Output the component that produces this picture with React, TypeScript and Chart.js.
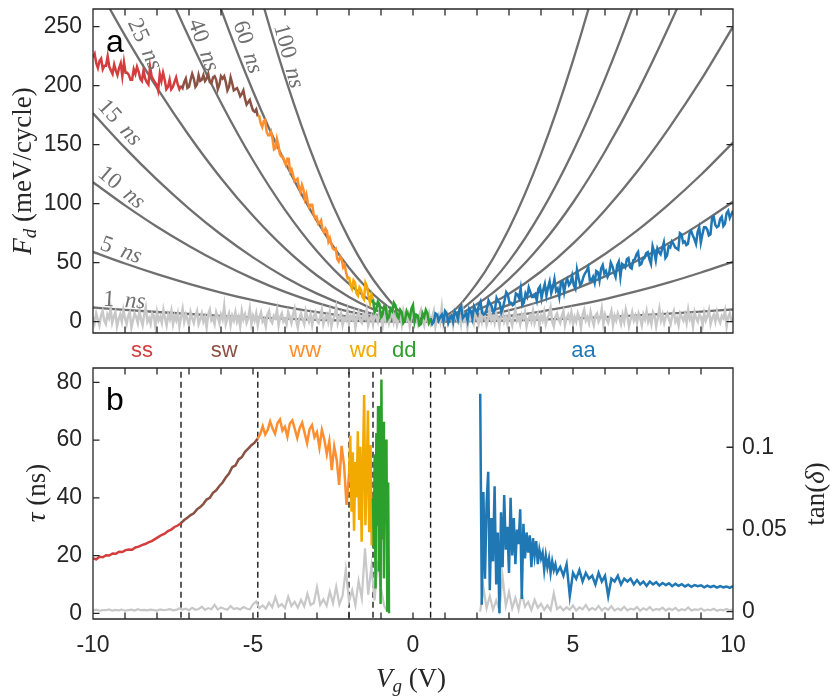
import { useEffect, useRef } from 'react';
import Chart from 'chart.js/auto';

// ---- axes ----
const vgMinorTicks = [-10, -9, -8, -7, -6, -5, -4, -3, -2, -1, 0, 1, 2, 3, 4, 5, 6, 7, 8, 9, 10];
const vgTicks = [-10, -5, 0, 5, 10];
const fdTicks = [0, 50, 100, 150, 200, 250];
const tauTicks = [0, 20, 40, 60, 80];
const tanTicks = [0, 0.05, 0.1];

// phase boundaries (V) and phase names
const phaseBounds = [-7.25, -4.85, -2.0, -1.25, 0.55];
const phaseNames = ['ss', 'sw', 'ww', 'wd', 'dd', 'aa'];
const phaseLabelV = [-8.47, -5.9, -3.37, -1.54, -0.27, 5.33];

// ---- panel a: model curves F_d(V_g) for fixed tau ----
const curveTaus = ['1', '5', '10', '15', '25', '40', '60', '100'];
const curveV = [-10, -9, -8, -7, -6, -5, -4, -3, -2, -1, 0, 1, 2, 3, 4, 5, 6, 7, 8, 9, 10];
const fd1ns = [12.0, 10.0, 8.2, 6.5, 5.0, 3.7, 2.6, 1.6, 0.9, 0.3, 0.0, 0.1, 0.4, 1.0, 1.8, 2.7, 3.9, 5.3, 6.8, 8.5, 10.3];
const fd5ns = [59.1, 49.3, 40.3, 32.1, 24.7, 18.2, 12.6, 8.0, 4.3, 1.6, 0.2, 0.3, 2.0, 4.8, 8.6, 13.5, 19.2, 25.8, 33.3, 41.7, 50.8];
const fd10ns = [118.2, 98.6, 80.5, 64.2, 49.5, 36.5, 25.2, 15.9, 8.5, 3.3, 0.4, 0.7, 4.0, 9.6, 17.3, 26.9, 38.4, 51.7, 66.7, 83.3, 101.6];
const fd15ns = [176.6, 147.3, 120.4, 95.9, 73.9, 54.5, 37.7, 23.8, 12.8, 4.9, 0.5, 1.0, 5.9, 14.3, 25.8, 40.2, 57.4, 77.2, 99.7, 124.5, 151.8];
const fd25ns = [290.8, 242.5, 198.1, 157.8, 121.6, 89.7, 62.1, 39.1, 21.0, 8.0, 0.9, 1.6, 9.7, 23.6, 42.5, 66.2, 94.5, 127.1, 164.1, 204.9, 250.0];
const fd40ns = [443.7, 369.9, 302.3, 240.8, 185.6, 136.8, 94.8, 59.7, 32.0, 12.3, 1.4, 2.4, 14.9, 36.0, 64.9, 101.0, 144.2, 193.9, 250.3, 312.7, 381.4];
const fd60ns = [633.2, 528.0, 431.4, 343.7, 264.9, 195.3, 135.2, 85.2, 45.7, 17.5, 2.0, 3.5, 21.2, 51.3, 92.6, 144.2, 205.8, 276.8, 357.2, 446.2, 544.3];
const fd100ns = [971.5, 810.1, 661.9, 527.4, 406.4, 299.6, 207.5, 130.8, 70.2, 26.9, 3.0, 5.4, 32.6, 78.8, 142.0, 221.2, 315.7, 424.7, 548.1, 684.7, 835.1];
const fdCurves = [fd1ns, fd5ns, fd10ns, fd15ns, fd25ns, fd40ns, fd60ns, fd100ns];

// ---- panel a: measured F_d (meV/cycle), evenly sampled within each phase ----
const fdSs = [
  224, 227, 219, 215, 221, 223, 214, 217, 217, 225, 216, 213, 210, 218, 213, 209, 215, 219, 208, 220,
  211, 211, 209, 205, 205, 214, 210, 216, 212, 206, 204, 213, 206, 203, 201, 216, 208, 205, 203, 201,
  196, 210, 204, 211, 205, 197, 199, 205, 197, 199, 203, 207, 201, 197, 200,
];
const fdSw = [
  200, 198, 203, 206, 198, 199, 205, 210, 206, 199, 201, 209, 204, 205, 209, 204, 206, 210, 203, 202,
  207, 208, 205, 197, 201, 208, 206, 208, 203, 196, 199, 207, 202, 196, 197, 198, 195, 191, 193, 196,
  189, 184, 186, 188, 183, 179, 178, 180, 174,
];
const fdWw = [
  174, 174, 168, 165, 170, 171, 161, 158, 158, 161, 155, 146, 147, 155, 150, 142, 140, 140, 136, 133,
  138, 138, 127, 129, 124, 119, 120, 121, 114, 110, 116, 112, 104, 108, 101, 97, 99, 99, 91, 88,
  89, 83, 84, 86, 78, 76, 79, 77, 68, 71, 66, 62, 61, 62, 53, 51, 55, 53, 46, 48, 42, 37, 38,
];
const fdWd = [38, 31, 28, 35, 33, 24, 22, 29, 27, 21, 19, 33, 30, 22, 16, 23, 19];
const fdDd = [
  19, 8, 10, 17, 15, 4, 6, 13, 12, 2, 4, 11, 9, 16, 14, 5, 3, 10, 8, -1,
  1, 9, 6, 3, 11, 14, 0, 6, 5, -3, -2, 7, 4, 10, 7, -1, 2,
];
const fdAa = [
  3, -2, 0, 7, 6, 1, 4, 6, 0, 9, 7, -1, 3, 5, 0, 9, 7, 2, 11, 13,
  3, 5, 7, 1, 11, 9, 3, 13, 10, 7, 14, 17, 8, 6, 7, 11, 18, 15, 13, 8,
  10, 20, 17, 16, 8, 12, 18, 25, 23, 16, 16, 14, 15, 24, 23, 20, 28, 14, 16, 24,
  21, 29, 25, 21, 21, 23, 18, 28, 30, 20, 27, 32, 22, 29, 34, 24, 29, 36, 26, 28,
  21, 33, 34, 25, 33, 36, 31, 33, 39, 31, 28, 44, 37, 31, 33, 38, 41, 43, 46, 35,
  35, 38, 33, 43, 42, 35, 45, 48, 41, 43, 38, 41, 50, 47, 42, 38, 48, 51, 38, 49,
  48, 46, 53, 54, 46, 45, 52, 53, 57, 59, 48, 49, 53, 54, 58, 59, 53, 49, 64, 59,
  52, 62, 59, 57, 62, 67, 54, 56, 64, 63, 68, 66, 63, 62, 61, 75, 74, 67, 68, 65,
  66, 75, 77, 73, 70, 66, 76, 80, 67, 74, 80, 80, 78, 73, 74, 88, 89, 82, 80, 81,
  87, 89, 81, 83, 92, 94, 88, 91, 94,
];
const fdBackground = [
  4, -1, 7, 2, -3, 5, 9, 1, -2, 6, 3, 11, -1, 4, 8, -4, 2, 6, 0, 10,
  3, -2, 5, 8, -5, 1, 7, 4, -1, 9, 2, -3, 6, 12, 0, 3, -2, 7, 5, -4,
  8, 1, 4, -1, 10, 3, -3, 6, 2, 9, -2, 5, 1, 7, -4, 4, 11, 0, 6, 2,
  -3, 8, 3, -1, 5, 9, -2, 2, 7, 0, 4, -5, 6, 10, 1, 3, -2, 8, 4, -1,
  6, 2, 13, -2, 3, 7, -3, 5, 1, 8, 0, 4, -4, 9, 2, 6, -1, 3, 11, -2,
  5, 1, 7, -3, 4, 8, 0, 2, -4, 6, 9, 1, -1, 5, 3, 10, -3, 4, 7, 0,
  2, -2, 8, 4, -1, 6, 11, 1, -5, 3, 7, 2, -2, 9, 4, 0, 6, -3, 5, 8,
  1, -1, 4, 10, -2, 3, 6, 0, 8, -4, 2, 5, 12, -1, 4, 7, -3, 3, 1, 9,
  -2, 5, 2, 7, -5, 4, 8, 1, -1, 6, 3, 10, -3, 2, 5, -2, 7, 4, 0, 9,
  3, -4, 6, 1, 8, -1, 4, 11, 0, 5, -3, 2, 7, -2, 9, 3, 1, 6, -4, 4,
  8, 0, 3, -2, 6, 10, 2, -3, 5, 1, 7, -1, 4, 9, -4, 3, 6, 0, 12, -2,
  4, 7, -1, 2, 5, -3, 8, 3, 0, 6, -2, 10, 1, 4, -5, 7, 2, 5, -1, 9,
  3, -2, 6, 0, 8, 4, -3, 2, 11, 1, 5, -1, 7, 3, -4, 6, 9, 0, 4, -2,
  7, 2, -3, 5, 10, 1, 4, -2, 6, 3, 8, -4, 2, 5, 0, 9, -1, 4, 7, -3,
  5, 1, 8, -2, 3, 6, 12, 0, -4, 4, 7, 2, -1, 5, 9, -3, 3, 6, 1, 8,
  -2, 4, 0, 7, 3, -5, 6, 10, 1, 4, -1, 8, 2, -3, 5, 7, 0, 3, 11, -2,
  6, 2, -1, 4, 9, -3, 5, 1, 7, 3, -2, 6, 0, 10, 4, -4, 2, 8, 1, 5,
  -1, 7, 3, -3, 6, 2, 9, 0, 4, -2, 8, 5, -4, 3, 11, 1, 6, -1, 4, 7,
  2, -2, 5, 9, 0, 3, -3, 7, 4, 1, 6, -1, 10, 2, 5, -4, 8, 3, 0, 6,
  4, -3, 7, 1, 5, 10, -2, 3, 6, 0, 8, 2, -1, 5, 3, 9, -4, 4, 7, 1, 3,
];

// ---- panel b: tau (ns) ----
const tauSs = [19.0, 18.7, 19.6, 19.4, 20.1, 20.0, 20.7, 20.6, 21.3, 21.2, 21.9, 22.1, 22.0, 22.8, 23.1, 23.6, 24.0, 24.6, 25.0, 25.7, 26.4, 27.1, 27.6, 28.5, 29.0, 29.9, 30.4, 31.2];
const tauSw = [31.2, 32.3, 33.1, 34.0, 34.6, 36.0, 36.8, 37.9, 39.4, 40.0, 41.7, 42.6, 44.1, 45.3, 47.0, 48.4, 50.6, 51.2, 53.3, 54.1, 55.9, 57.0, 58.2, 59.1, 60.5];
const tauWw = [60.5, 62.1, 64.8, 61.9, 63.5, 66.4, 64.0, 62.2, 65.9, 67.1, 63.3, 64.6, 61.2, 65.7, 66.8, 63.9, 60.7, 64.2, 66.0, 62.5, 58.9, 63.8, 65.2, 61.0, 62.7, 57.4, 63.5, 60.2, 55.1, 59.6, 49.6, 57.8, 53.2, 44.5, 58.0, 51.2, 37.5, 48.0];
const tauWd = [48.0, 61.5, 35.2, 55.8, 28.6, 52.4, 40.1, 63.0, 32.3, 57.7, 24.8, 50.2, 75.6, 30.5, 46.9, 70.2, 28.1, 58.3, 23.5, 40.0];
const tauDd = [40.0, 22.3, 55.1, 8.6, 62.4, 30.2, 71.8, 14.5, 48.7, 3.2, 81.0, 25.6, 66.3, 12.1, 52.8, 35.0, 60.2, 0.5, 45.3, 0.0];
const tauAaNear = [
  76, 3, 42, 12, 38, 49, 8, 33, 18, 44, 10, 28, 0, 35, 16, 41, 22, 30, 14, 40,
  20, 33, 17, 29, 24, 36, 5, 31, 19, 28, 21, 27, 16, 26, 20, 25, 17, 22, 19, 21,
  15, 20, 16, 19, 14, 18, 15, 17, 14,
];
const tauAaFar = [
  16, 13, 17, 6, 14, 12, 15, 11, 14, 12, 13, 10, 14, 11, 13, 6, 12, 11, 13, 10,
  12, 11, 12, 10, 11.5, 10, 11, 9.5, 11, 10, 10.8, 9.6, 10.5, 9.8, 10.4, 9.4, 10.2, 9.5, 10.1, 9.3,
  9.9, 9.2, 9.8, 9.4, 9.7, 9.0, 9.6, 9.1, 9.5, 8.9, 9.4, 9.0, 9.3, 8.8, 9.4,
];
// tan(delta), in units of 1e-3
const tanLeftMilli = [
  0.8, 1.2, 0.6, 1.0, 0.9, 1.4, 0.7, 1.1, 0.8, 1.3, 0.6, 1.0, 1.2, 0.7, 1.5, 0.9, 1.1, 0.8, 1.3, 1.0,
  0.7, 1.4, 0.9, 1.2, 1.6, 0.8, 1.1, 2.0, 1.3, 1.8, 0.9, 2.4, 1.2, 1.6, 3.0, 1.1, 2.2, 1.5, 4.1, 1.3,
  2.6, 1.8, 1.2, 3.4, 1.6, 2.1, 1.4, 2.8, 1.9, 1.3, 4.5, 6.2, 2.1, 3.8, 1.9, 5.5, 2.7, 8.9, 3.1, 4.6,
  2.2, 9.1, 3.5, 6.0, 2.4, 7.2, 3.3, 10.8, 4.1, 5.3, 15.0, 4.2, 7.5, 3.6, 12.3, 5.1, 15.2, 4.4, 9.8, 25.8,
  6.3, 13.0, 3.9, 18.7, 8.2, 38.5, 10.4, 27.6, 6.8, 31.0, 14.2, 3.5, 0.0,
];
const tanRightMilli = [
  0.0, 14.8, 2.1, 9.5, 1.3, 6.8, 0.8, 21.3, 3.5, 12.0, 2.0, 8.4, 1.2, 11.2, 3.1, 5.9, 1.0, 7.2, 2.4, 4.8,
  1.1, 3.9, 0.9, 11.2, 1.6, 3.1, 0.8, 2.7, 1.2, 3.8, 0.7, 2.6, 1.4, 4.1, 0.9, 2.2, 1.1, 3.5, 0.8, 2.4,
  1.2, 3.3, 0.7, 2.0, 1.0, 3.0, 0.8, 1.9, 1.3, 2.8, 0.6, 2.1, 1.1, 2.9, 0.8, 1.7, 1.2, 2.5, 0.7, 1.9,
  1.0, 2.3, 0.6, 1.5, 0.9, 2.6, 0.7, 1.4, 1.1, 2.0, 0.6, 1.3, 0.9, 1.8, 0.5, 1.2, 0.8, 1.6, 0.7, 1.4,
];

// ---- styles ----
const AXIS = '#262626';
const CURVE = '#6f6f6f';
const BG = '#c8c8c8';
const phaseColors = ['#d43d3d', '#8b5244', '#ff8f2e', '#f2a900', '#2ca02c', '#1f77b4'];
const TICK = 6.5;
const SANS = '"Liberation Sans", Arial, sans-serif';
const SERIF = '"Liberation Serif", "Times New Roman", serif';

// where the tau labels sit along the curves (V, F_d, angle in degrees)
const curveLabelPos = [
  [-9.02, 18.4, 4], [-9.12, 61, 20], [-9.1, 114, 40], [-9.15, 169, 48],
  [-8.37, 235.3, 65], [-6.53, 234.5, 70], [-5.15, 232.8, 72], [-3.87, 225.2, 75],
];

const spread = (x0: number, x1: number, ys: number[]) =>
  ys.map((y, i) => ({ x: x0 + ((x1 - x0) * i) / (ys.length - 1), y }));

type Run = { t: string; font: string; dy?: number };
function drawRuns(ctx: CanvasRenderingContext2D, runs: Run[], cx: number, cy: number, angle: number, color: string, base: number) {
  ctx.save();
  ctx.translate(cx, cy);
  ctx.rotate((angle * Math.PI) / 180);
  ctx.fillStyle = color;
  ctx.textBaseline = 'alphabetic';
  ctx.textAlign = 'left';
  let w = 0;
  for (const r of runs) {
    ctx.font = r.font;
    w += ctx.measureText(r.t).width;
  }
  let x = -w / 2;
  for (const r of runs) {
    ctx.font = r.font;
    ctx.fillText(r.t, x, base + (r.dy ?? 0));
    x += ctx.measureText(r.t).width;
  }
  ctx.restore();
}

function drawFrame(chart: any, left: [any, number[]], right: [any, number[]]) {
  const { ctx, chartArea: c } = chart;
  const x = chart.scales.x;
  ctx.save();
  ctx.strokeStyle = AXIS;
  ctx.lineWidth = 1.3;
  ctx.beginPath();
  for (const v of vgMinorTicks) {
    const p = x.getPixelForValue(v);
    ctx.moveTo(p, c.bottom);
    ctx.lineTo(p, c.bottom - TICK);
    ctx.moveTo(p, c.top);
    ctx.lineTo(p, c.top + TICK);
  }
  for (const v of left[1]) {
    const p = left[0].getPixelForValue(v);
    ctx.moveTo(c.left, p);
    ctx.lineTo(c.left + TICK, p);
  }
  for (const v of right[1]) {
    const p = right[0].getPixelForValue(v);
    ctx.moveTo(c.right, p);
    ctx.lineTo(c.right - TICK, p);
  }
  ctx.rect(c.left, c.top, c.right - c.left, c.bottom - c.top);
  ctx.stroke();
  ctx.restore();
}

const line = (data: { x: number; y: number }[], color: string, width = 2.5, extra: object = {}) => ({
  data,
  borderColor: color,
  borderWidth: width,
  pointRadius: 0,
  fill: false,
  tension: 0,
  ...extra,
});

const fixedTicks = (values: number[]) => (scale: any) => {
  scale.ticks = values.map((value) => ({ value }));
};

// fixed axis size, and no extra room reserved for the outermost tick labels
const fitTo = (size: number) => (s: any) => {
  if (s.isHorizontal()) s.height = size;
  else s.width = size;
  s.paddingTop = 0;
  s.paddingBottom = 0;
  s.paddingLeft = 0;
  s.paddingRight = 0;
};

const tickFont = { family: SANS, size: 23 };

export default function App() {
  const aRef = useRef<HTMLCanvasElement>(null);
  const bRef = useRef<HTMLCanvasElement>(null);

  useEffect(() => {
    if (!aRef.current || !bRef.current) return;
    Chart.defaults.font.family = SANS;

    const segA = [
      spread(-10, -7.25, fdSs), spread(-7.25, -4.85, fdSw), spread(-4.85, -2.0, fdWw),
      spread(-2.0, -1.25, fdWd), spread(-1.25, 0.55, fdDd), spread(0.55, 10, fdAa),
    ];
    const segB = [
      spread(-10, -7.25, tauSs), spread(-7.25, -4.85, tauSw), spread(-4.85, -2.0, tauWw),
      spread(-2.0, -1.25, tauWd), spread(-1.25, -0.75, tauDd),
      [...spread(2.1, 4.5, tauAaNear), ...spread(4.6, 10, tauAaFar)],
    ];

    // first dataset is drawn on top
    const datasetsA: any[] = [
      ...[4, 3, 2, 1, 0, 5].map((i) => line(segA[i], phaseColors[i])),
      line(spread(-10, 10, fdBackground), BG),
      ...fdCurves.map((ys) =>
        line(ys.map((y, i) => ({ x: curveV[i], y })), CURVE, 2.3, { cubicInterpolationMode: 'monotone' })
      ),
    ];

    const datasetsB: any[] = [
      ...[4, 3, 2, 1, 0, 5].map((i) => line(segB[i], phaseColors[i])),
      line(spread(-10, -0.8, tanLeftMilli.map((v) => v / 1000)), BG, 2.2, { yAxisID: 'y1' }),
      line(spread(2.1, 10, tanRightMilli.map((v) => v / 1000)), BG, 2.2, { yAxisID: 'y1' }),
      ...phaseBounds.map((v) =>
        line([{ x: v, y: -5 }, { x: v, y: 90 }], '#1a1a1a', 1.4, { borderDash: [6, 4] })
      ),
    ];

    const textA = {
      id: 'textA',
      afterDraw(chart: any) {
        const { ctx } = chart;
        const x = chart.scales.x, y = chart.scales.y;
        drawFrame(chart, [y, fdTicks], [y, fdTicks]);
        ctx.save();
        ctx.fillStyle = '#000';
        ctx.font = `32px ${SANS}`;
        ctx.textBaseline = 'alphabetic';
        ctx.fillText('a', 106, 52);
        ctx.restore();
        drawRuns(ctx, [
          { t: 'F', font: `italic 27px ${SERIF}` },
          { t: 'd', font: `italic 19px ${SERIF}`, dy: 5 },
          { t: ' (meV/cycle)', font: `27px ${SERIF}` },
        ], 22, 171, -90, AXIS, 9);
        curveTaus.forEach((t, i) => {
          const [v, f, ang] = curveLabelPos[i];
          drawRuns(ctx, [
            { t: t + '\u2009 ', font: `23px ${SERIF}` },
            { t: 'ns', font: `italic 23px ${SERIF}` },
          ], x.getPixelForValue(v), y.getPixelForValue(f), ang, CURVE, 7);
        });
      },
    };

    const textB = {
      id: 'textB',
      afterDraw(chart: any) {
        const { ctx, chartArea: c } = chart;
        const x = chart.scales.x;
        drawFrame(chart, [chart.scales.y, tauTicks], [chart.scales.y1, tanTicks]);
        ctx.save();
        ctx.fillStyle = '#000';
        ctx.font = `32px ${SANS}`;
        ctx.textBaseline = 'alphabetic';
        ctx.fillText('b', 106, 72);
        ctx.font = `22px ${SANS}`;
        ctx.textAlign = 'center';
        ctx.textBaseline = 'middle';
        phaseNames.forEach((n, i) => {
          ctx.fillStyle = phaseColors[i];
          ctx.fillText(n, x.getPixelForValue(phaseLabelV[i]), c.top - 17);
        });
        ctx.restore();
        drawRuns(ctx, [
          { t: 'τ', font: `italic 27px ${SERIF}` },
          { t: ' (ns)', font: `27px ${SERIF}` },
        ], 36, 155, -90, AXIS, 9);
        drawRuns(ctx, [
          { t: 'tan(', font: `27px ${SERIF}` },
          { t: 'δ', font: `italic 27px ${SERIF}` },
          { t: ')', font: `27px ${SERIF}` },
        ], 815, 156, -90, AXIS, 9);
        drawRuns(ctx, [
          { t: 'V', font: `italic 27px ${SERIF}` },
          { t: 'g', font: `italic 19px ${SERIF}`, dy: 5 },
          { t: ' (V)', font: `27px ${SERIF}` },
        ], 411, 340, 0, AXIS, 9);
      },
    };

    const common = {
      animation: false as const,
      responsive: false,
      events: [] as any[],
      plugins: { legend: { display: false }, tooltip: { enabled: false } },
    };

    const a = new Chart(aRef.current, {
      type: 'line',
      data: { datasets: datasetsA },
      options: {
        ...common,
        layout: { padding: { top: 9, right: 97, bottom: 12, left: 0 } },
        scales: {
          x: { type: 'linear', min: -10, max: 10, display: false },
          y: {
            type: 'linear', min: -9.6, max: 265,
            afterFit: fitTo(93),
            afterBuildTicks: fixedTicks(fdTicks),
            grid: { display: false, drawTicks: false },
            border: { display: false },
            ticks: { padding: 11, font: tickFont, color: AXIS, callback: (v: any) => String(v) },
          },
        },
      } as any,
      plugins: [textA],
    });

    const b = new Chart(bRef.current, {
      type: 'line',
      data: { datasets: datasetsB },
      options: {
        ...common,
        layout: { padding: { top: 30, right: 0, bottom: 0, left: 0 } },
        scales: {
          x: {
            type: 'linear', min: -10, max: 10, position: 'bottom',
            afterFit: fitTo(78),
            afterBuildTicks: fixedTicks(vgTicks),
            grid: { display: false, drawTicks: false },
            border: { display: false },
            ticks: { padding: 13, font: tickFont, color: AXIS, autoSkip: false, maxRotation: 0, callback: (v: any) => String(v) },
          },
          y: {
            type: 'linear', position: 'left', min: -1.97, max: 84.95,
            afterFit: fitTo(93),
            afterBuildTicks: fixedTicks(tauTicks),
            grid: { display: false, drawTicks: false },
            border: { display: false },
            ticks: { padding: 11, font: tickFont, color: AXIS, callback: (v: any) => String(v) },
          },
          y1: {
            type: 'linear', position: 'right', min: -0.00444, max: 0.1482,
            afterFit: fitTo(97),
            afterBuildTicks: fixedTicks(tanTicks),
            grid: { display: false, drawTicks: false },
            border: { display: false },
            ticks: { padding: 9, font: tickFont, color: AXIS, callback: (v: any) => String(v) },
          },
        },
      } as any,
      plugins: [textB],
    });

    return () => {
      a.destroy();
      b.destroy();
    };
  }, []);

  return (
    <div style={{ position: 'absolute', left: 0, top: 0, width: 830, height: 697, background: '#fff' }}>
      <canvas ref={aRef} width={830} height={345} style={{ position: 'absolute', left: 0, top: 0 }} />
      <canvas ref={bRef} width={830} height={359} style={{ position: 'absolute', left: 0, top: 338 }} />
    </div>
  );
}
